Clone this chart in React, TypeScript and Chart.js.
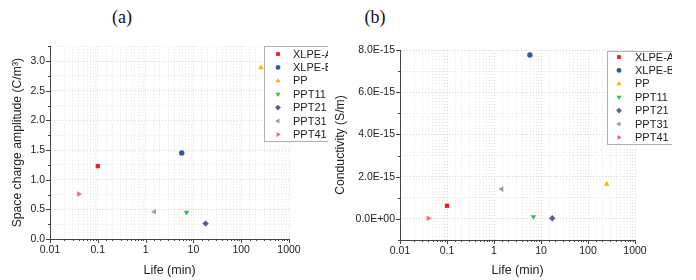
import React, { useEffect, useRef } from 'react';
import { Chart, registerables } from 'chart.js';
import * as helpers from 'chart.js/helpers';
Chart.register(...registerables);

const seriesNames = ['XLPE-A', 'XLPE-B', 'PP', 'PPT11', 'PPT21', 'PPT31', 'PPT41'];
const seriesColors = ['#ee1c24', '#2e5d9f', '#f7b500', '#2fbf57', '#5c5c9e', '#9b9b9b', '#f26b6b'];
const seriesStyles = ['rect', 'circle', 'triangle', 'triangle', 'rectRot', 'triangle', 'triangle'];
const seriesRotations = [0, 0, 0, 180, 0, -90, 90];
const seriesRadius = [3, 2.7, 3.2, 3.2, 3.2, 3.2, 3.2];

// (a) life (min) vs space charge amplitude (C/m^3)
const lifeA = [0.1, 5.7, 259, 7.2, 18, 1.52, 0.04];
const spaceCharge = [1.23, 1.45, 2.89, 0.45, 0.26, 0.46, 0.76];
// (b) life (min) vs conductivity (units of 1e-15 S/m)
const lifeB = [0.1, 5.8, 250, 6.9, 17.4, 1.46, 0.04];
const conductivityE15 = [0.62, 7.76, 1.65, 0.1, 0.03, 1.41, 0.03];

const xTickLabels = ['0.01', '0.1', '1', '10', '100', '1000'];

const FONT = 'Liberation Sans, Arial, sans-serif';
const GRID_MINOR = '#e6e6e6';
const GRID_MAJOR = '#d6d6d6';

type LegendCfg = { left: number; top: number; width: number; height: number; firstY: number; step: number; markerX: number; textX: number };

function makeLegendPlugin(cfg: LegendCfg) {
  return {
    id: 'customLegend',
    afterDraw(chart: any) {
      const ctx = chart.ctx;
      ctx.save();
      ctx.fillStyle = '#ffffff';
      ctx.fillRect(cfg.left, cfg.top, cfg.width, cfg.height);
      ctx.strokeStyle = '#b0b0b0';
      ctx.lineWidth = 1;
      ctx.strokeRect(cfg.left + 0.5, cfg.top + 0.5, cfg.width, cfg.height);
      ctx.font = `11px ${FONT}`;
      ctx.textBaseline = 'middle';
      ctx.textAlign = 'left';
      seriesNames.forEach((name, i) => {
        const y = cfg.firstY + i * cfg.step;
        ctx.fillStyle = seriesColors[i];
        ctx.strokeStyle = seriesColors[i];
        helpers.drawPoint(ctx, { pointStyle: seriesStyles[i], rotation: seriesRotations[i], radius: seriesRadius[i] * 0.9, borderWidth: 0 }, cfg.markerX, y);
        ctx.fillStyle = '#222';
        ctx.fillText(name, cfg.textX, y + 0.5);
      });
      ctx.restore();
    },
  };
}

const tickMarkPlugin = {
  id: 'tickMarks',
  afterDraw(chart: any) {
    const ctx = chart.ctx;
    const xs = chart.scales.x;
    const ys = chart.scales.y;
    ctx.save();
    ctx.strokeStyle = '#444';
    ctx.lineWidth = 1;
    xs.ticks.forEach((t: any) => {
      const l = Math.log10(t.value);
      const major = Math.abs(l - Math.round(l)) < 1e-6;
      const x = Math.round(xs.getPixelForValue(t.value)) + 0.5;
      ctx.beginPath();
      ctx.moveTo(x, xs.top);
      ctx.lineTo(x, xs.top + (major ? 4 : 2));
      ctx.stroke();
    });
    ys.ticks.forEach((t: any) => {
      const major = t.label !== '' && t.label != null;
      const y = Math.round(ys.getPixelForValue(t.value)) + 0.5;
      ctx.beginPath();
      ctx.moveTo(ys.right, y);
      ctx.lineTo(ys.right - (major ? 4 : 2), y);
      ctx.stroke();
    });
    ctx.restore();
  },
};

function xScale(height: number) {
  return {
    type: 'logarithmic',
    min: 0.01,
    max: 1000,
    afterFit: (s: any) => { s.height = height; },
    grid: {
      color: (c: any) => {
        const v = c.tick ? c.tick.value : 1;
        const l = Math.log10(v);
        return Math.abs(l - Math.round(l)) < 1e-6 ? GRID_MAJOR : GRID_MINOR;
      },
      drawTicks: false,
      lineWidth: 1,
    },
    border: { display: true, color: '#444', width: 1, dash: [1, 2] },
    ticks: {
      autoSkip: false,
      maxRotation: 0,
      padding: 5,
      color: '#222',
      font: { family: FONT, size: 10.5 },
      callback: (v: number) => {
        const l = Math.log10(v);
        if (Math.abs(l - Math.round(l)) < 1e-6) return xTickLabels[Math.round(l) + 2] ?? '';
        return '';
      },
    },
    title: { display: true, text: 'Life (min)', color: '#222', font: { family: FONT, size: 12.5 }, padding: { top: 2, bottom: 2 } },
  };
}

function makeDatasets(xs: number[], ys: number[]) {
  return seriesNames.map((name, i) => ({
    label: name,
    data: [{ x: xs[i], y: ys[i] }],
    backgroundColor: seriesColors[i],
    borderColor: seriesColors[i],
    borderWidth: 0,
    pointStyle: seriesStyles[i],
    rotation: seriesRotations[i],
    pointRadius: seriesRadius[i],
  }));
}

function ChartA() {
  const ref = useRef<HTMLCanvasElement>(null);
  useEffect(() => {
    const chart = new Chart(ref.current!, {
      type: 'scatter',
      data: { datasets: makeDatasets(lifeA, spaceCharge) as any },
      options: {
        responsive: false,
        animation: false,
        devicePixelRatio: 1,
        layout: { padding: { left: 10, top: 10, right: 39, bottom: 0 } },
        plugins: { legend: { display: false }, tooltip: { enabled: false } },
        scales: {
          x: xScale(41) as any,
          y: {
            min: 0,
            max: 3.25,
            afterFit: (s: any) => { s.width = 40; },
            grid: {
              color: (c: any) => {
                const v = c.tick ? c.tick.value : 0;
                return Math.abs(v * 2 - Math.round(v * 2)) < 1e-6 ? GRID_MAJOR : GRID_MINOR;
              },
              drawTicks: false,
            },
            border: { display: true, color: '#444', width: 1, dash: [1, 2] },
            ticks: {
              stepSize: 0.25,
              autoSkip: false,
              padding: 5,
              color: '#222',
              font: { family: FONT, size: 10.5 },
              callback: (v: number) => (Math.abs(v * 2 - Math.round(v * 2)) < 1e-6 ? v.toFixed(1) : ''),
            },
            title: { display: true, text: 'Space charge amplitude (C/m³)', color: '#222', font: { family: FONT, size: 12.2 }, padding: { top: 0, bottom: 2 } },
          },
        },
      },
      plugins: [tickMarkPlugin, makeLegendPlugin({ left: 264, top: 11, width: 120, height: 95, firstY: 19, step: 13.4, markerX: 278, textX: 293 })],
    } as any);
    return () => chart.destroy();
  }, []);
  return <canvas ref={ref} width={328} height={245} style={{ position: 'absolute', left: 0, top: 35 }} />;
}

function ChartB() {
  const ref = useRef<HTMLCanvasElement>(null);
  useEffect(() => {
    const chart = new Chart(ref.current!, {
      type: 'scatter',
      data: { datasets: makeDatasets(lifeB, conductivityE15) as any },
      options: {
        responsive: false,
        animation: false,
        devicePixelRatio: 1,
        layout: { padding: { left: 3, top: 15, right: 37, bottom: 0 } },
        plugins: { legend: { display: false }, tooltip: { enabled: false } },
        scales: {
          x: xScale(40) as any,
          y: {
            min: -1,
            max: 8,
            afterFit: (s: any) => { s.width = 67; },
            grid: {
              color: (c: any) => {
                const v = c.tick ? Math.round(c.tick.value) : 0;
                return v % 2 === 0 ? GRID_MAJOR : GRID_MINOR;
              },
              drawTicks: false,
            },
            border: { display: true, color: '#444', width: 1, dash: [1, 2] },
            ticks: {
              stepSize: 1,
              autoSkip: false,
              padding: 5,
              color: '#222',
              font: { family: FONT, size: 10.5 },
              callback: (v: number) => {
                const r = Math.round(v);
                if (Math.abs(v - r) > 1e-6 || r % 2 !== 0 || r < 0) return '';
                return r === 0 ? '0.0E+00' : `${r.toFixed(1)}E-15`;
              },
            },
            title: { display: true, text: 'Conductivity (S/m)', color: '#222', font: { family: FONT, size: 12.2 }, padding: { top: 0, bottom: 2 } },
          },
        },
      },
      plugins: [tickMarkPlugin, makeLegendPlugin({ left: 277, top: 16, width: 120, height: 93, firstY: 22, step: 13.4, markerX: 289, textX: 305 })],
    } as any);
    return () => chart.destroy();
  }, []);
  return <canvas ref={ref} width={342} height={245} style={{ position: 'absolute', left: 330, top: 35 }} />;
}

export default function App() {
  const titleStyle: React.CSSProperties = {
    position: 'absolute',
    top: 6,
    fontFamily: '"Liberation Serif", "Times New Roman", serif',
    fontSize: 18,
    color: '#111',
    transform: 'translateX(-50%)',
    lineHeight: '22px',
  };
  return (
    <div style={{ position: 'fixed', left: 0, top: 0, width: 696, height: 280, background: '#fff', overflow: 'hidden' }}>
      <div style={{ ...titleStyle, left: 122 }}>(a)</div>
      <div style={{ ...titleStyle, left: 375 }}>(b)</div>
      <ChartA />
      <ChartB />
    </div>
  );
}
